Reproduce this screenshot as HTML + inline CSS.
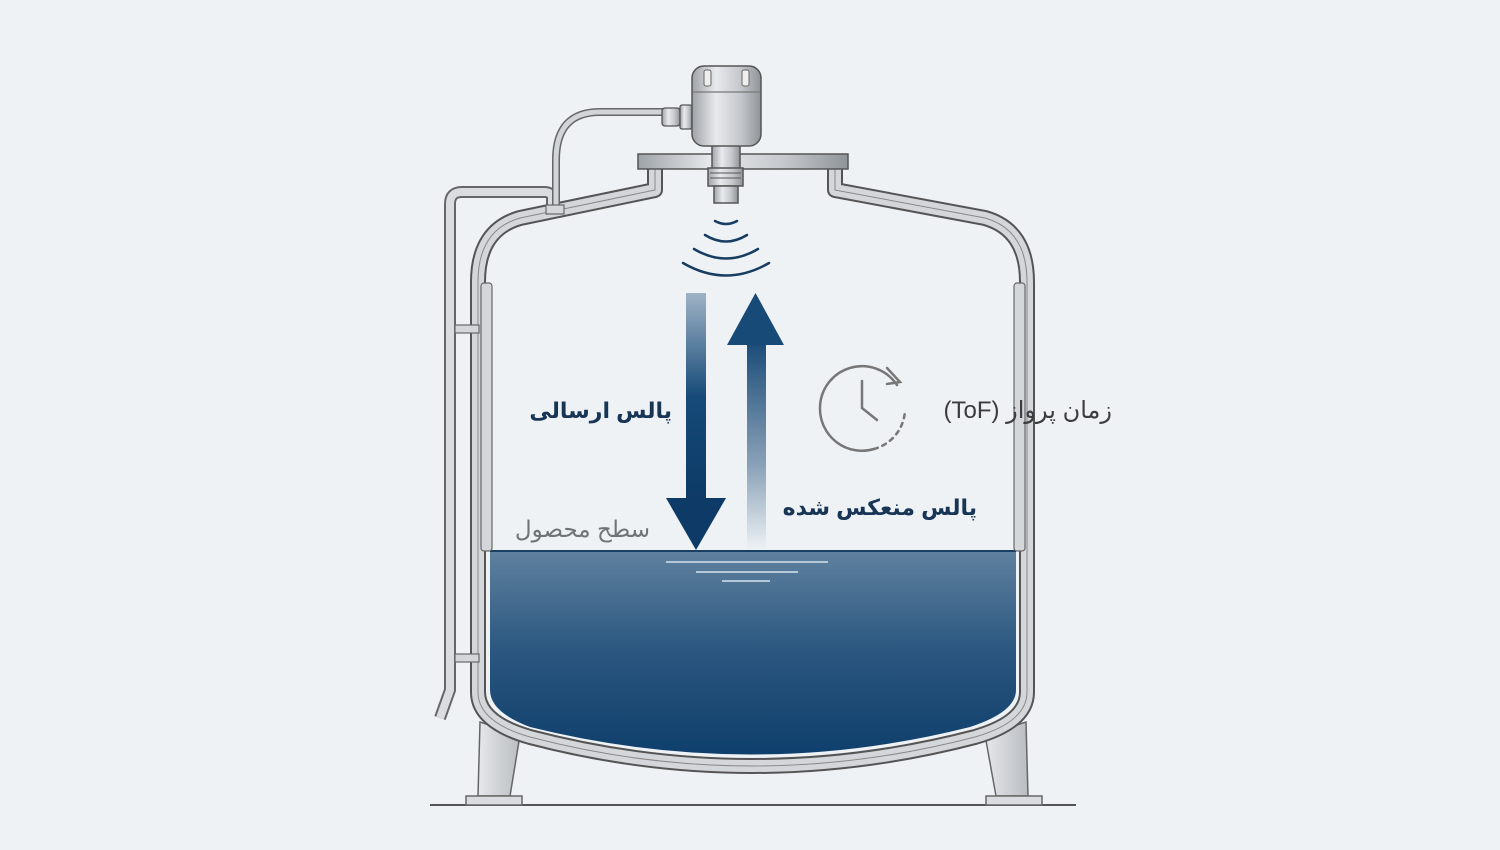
<!DOCTYPE html>
<html><head><meta charset="utf-8">
<style>
html,body{margin:0;padding:0;background:#eef2f5;}
svg{display:block;}
text{font-family:"Liberation Sans","Noto Sans CJK SC","DejaVu Sans",sans-serif;}
</style></head>
<body>
<svg width="1500" height="850" viewBox="0 0 1500 850" xmlns="http://www.w3.org/2000/svg">
<defs>
<linearGradient id="liq" x1="0" y1="0" x2="0" y2="1">
<stop offset="0" stop-color="#5f819f"/><stop offset="0.5" stop-color="#2a567f"/><stop offset="1" stop-color="#0f3f6c"/>
</linearGradient>
<linearGradient id="down" x1="0" y1="0" x2="0" y2="1">
<stop offset="0" stop-color="#9fb3c6"/><stop offset="0.5" stop-color="#164a78"/><stop offset="1" stop-color="#0d3a66"/>
</linearGradient>
<linearGradient id="up" x1="0" y1="0" x2="0" y2="1">
<stop offset="0" stop-color="#184a77"/><stop offset="0.6" stop-color="#8aa2b8"/><stop offset="1" stop-color="#eef2f5"/>
</linearGradient>
<linearGradient id="metal" x1="0" y1="0" x2="1" y2="0">
<stop offset="0" stop-color="#9ea3a8"/><stop offset="0.35" stop-color="#e8eaec"/><stop offset="0.7" stop-color="#c4c8cc"/><stop offset="1" stop-color="#8f9499"/>
</linearGradient>
<linearGradient id="leg" x1="0" y1="0" x2="1" y2="0">
<stop offset="0" stop-color="#e6e8ea"/><stop offset="1" stop-color="#b9bdc1"/>
</linearGradient>
</defs>

<line x1="430" y1="805" x2="1076" y2="805" stroke="#555" stroke-width="2"/>
<path d="M480,722 L520,735 L510,796 L478,796 Z" fill="url(#leg)" stroke="#666" stroke-width="1.5"/>
<rect x="466" y="796" width="56" height="9" fill="#dadde0" stroke="#666" stroke-width="1.5"/>
<path d="M985,735 L1026,722 L1028,796 L996,796 Z" fill="url(#leg)" stroke="#666" stroke-width="1.5"/>
<rect x="986" y="796" width="56" height="9" fill="#dadde0" stroke="#666" stroke-width="1.5"/>

<path d="M490,551 L1016,551 L1016,690 Q1016,712 970,727 Q752,782 530,727 Q490,712 490,690 Z" fill="url(#liq)"/>
<line x1="490" y1="551" x2="1016" y2="551" stroke="#1b3f62" stroke-width="2"/>
<line x1="666" y1="562" x2="828" y2="562" stroke="#b6c8d8" stroke-width="2"/>
<line x1="696" y1="572" x2="798" y2="572" stroke="#b6c8d8" stroke-width="2"/>
<line x1="722" y1="581" x2="770" y2="581" stroke="#b6c8d8" stroke-width="2"/>

<g fill="none" stroke-linejoin="round">
<path d="M655,168 L655,190 L520,218 Q478,230 478,282 L478,692 Q478,722 530,737 Q752,795 975,737 Q1027,722 1027,692 L1027,282 Q1027,230 985,218 L835,190 L835,168" stroke="#555" stroke-width="16"/>
<path d="M655,168 L655,190 L520,218 Q478,230 478,282 L478,692 Q478,722 530,737 Q752,795 975,737 Q1027,722 1027,692 L1027,282 Q1027,230 985,218 L835,190 L835,168" stroke="#d4d7da" stroke-width="12"/>
<path d="M655,168 L655,190 L520,218 Q478,230 478,282 L478,692 Q478,722 530,737 Q752,795 975,737 Q1027,722 1027,692 L1027,282 Q1027,230 985,218 L835,190 L835,168" stroke="#888" stroke-width="1"/>
</g>
<rect x="481" y="283" width="11" height="268" rx="3" fill="#d4d7da" stroke="#666" stroke-width="1.2"/>
<rect x="1014" y="283" width="11" height="268" rx="3" fill="#d4d7da" stroke="#666" stroke-width="1.2"/>

<g fill="none">
<path d="M552,205 L552,198 Q552,192 544,192 L462,192 Q450,192 450,204 L450,690 L440,718" stroke="#666" stroke-width="12"/>
<path d="M552,205 L552,198 Q552,192 544,192 L462,192 Q450,192 450,204 L450,690 L440,718" stroke="#dadde0" stroke-width="8"/>
<path d="M668,112 L600,112 Q556,112 556,160 L556,205" stroke="#666" stroke-width="8"/>
<path d="M668,112 L600,112 Q556,112 556,160 L556,205" stroke="#d2d5d8" stroke-width="5"/>
</g>
<rect x="546" y="205" width="18" height="9" fill="#d4d7da" stroke="#666" stroke-width="1.2"/>
<rect x="455" y="325" width="24" height="8" fill="#d4d7da" stroke="#666" stroke-width="1.2"/>
<rect x="455" y="654" width="24" height="8" fill="#d4d7da" stroke="#666" stroke-width="1.2"/>

<rect x="638" y="154" width="210" height="15" fill="url(#metal)" stroke="#555" stroke-width="1.5"/>
<rect x="712" y="140" width="28" height="30" fill="url(#metal)" stroke="#555" stroke-width="1.5"/>
<rect x="708" y="168" width="35" height="18" fill="url(#metal)" stroke="#555" stroke-width="1.5"/>
<line x1="710" y1="173" x2="741" y2="173" stroke="#555"/>
<line x1="710" y1="178" x2="741" y2="178" stroke="#555"/>
<rect x="714" y="186" width="24" height="17" fill="url(#metal)" stroke="#555" stroke-width="1.5"/>
<rect x="662" y="108" width="18" height="18" rx="3" fill="url(#metal)" stroke="#555" stroke-width="1.3"/>
<rect x="680" y="105" width="12" height="24" rx="2" fill="url(#metal)" stroke="#555" stroke-width="1.3"/>
<rect x="692" y="66" width="69" height="80" rx="12" fill="url(#metal)" stroke="#555" stroke-width="1.5"/>
<line x1="693" y1="92" x2="760" y2="92" stroke="#777" stroke-width="1.2"/>
<rect x="704" y="70" width="7" height="16" rx="2" fill="#eee" stroke="#666"/>
<rect x="742" y="70" width="7" height="16" rx="2" fill="#eee" stroke="#666"/>

<g fill="none" stroke="#183d63" stroke-width="2.5" stroke-linecap="round">
<path d="M715,221 Q726,227 737,221"/>
<path d="M705,235 Q726,248 747,235"/>
<path d="M694,249 Q726,268 758,249"/>
<path d="M683,263 Q726,288 769,263"/>
</g>

<rect x="686" y="293" width="20" height="208" fill="url(#down)"/>
<path d="M666,498 L726,498 L696,550 Z" fill="#0d3a66"/>
<rect x="747" y="340" width="19" height="210" fill="url(#up)"/>
<path d="M727,345 L784,345 L755.5,293 Z" fill="#184a77"/>

<g fill="none" stroke="#777" stroke-width="2.5" stroke-linecap="round">
<path d="M897,385 A42,42 0 0 0 820,408 A42,42 0 0 0 874,449"/>
<path d="M874,449 A42,42 0 0 0 905,410" stroke-dasharray="4,5"/>
<polyline points="887,368 900,382 887,384"/>
<polyline points="862,381 862,408 877,420"/>
</g>

<text x="672" y="418" text-anchor="start" direction="rtl" font-size="22" font-weight="bold" fill="#183556">پالس ارسالی</text>
<text x="977" y="515" text-anchor="start" direction="rtl" font-size="22" font-weight="bold" fill="#183556">پالس منعکس شده</text>
<text x="1112" y="418" text-anchor="start" direction="rtl" font-size="24" fill="#3c3c3c">زمان پرواز (ToF)</text>
<text x="650" y="537" text-anchor="start" direction="rtl" font-size="23" fill="#707478">سطح محصول</text>
</svg>
</body></html>
